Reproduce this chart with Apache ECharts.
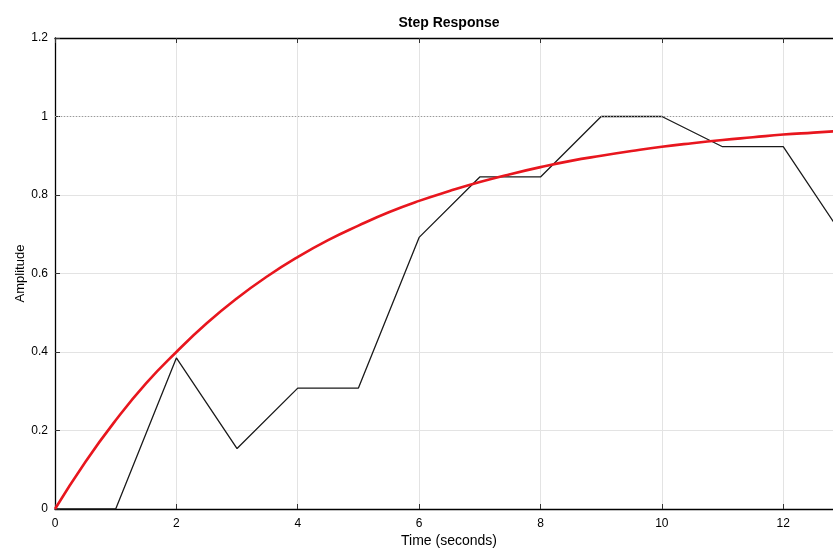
<!DOCTYPE html>
<html>
<head>
<meta charset="utf-8">
<script src="https://cdn.jsdelivr.net/npm/echarts@6/dist/echarts.min.js"></script>
<style>
  html, body { margin: 0; padding: 0; background: #fff; }
  #chart { width: 833px; height: 551px; }
</style>
</head>
<body>
<div id="chart"></div>
<script>
var stepTimes = [0, 1, 2, 3, 4, 5, 6, 7, 8, 9, 10, 11, 12, 13];
var stepValues = [0, 0, 0.385, 0.154, 0.308, 0.308, 0.692, 0.846, 0.846, 1.0, 1.0, 0.923, 0.923, 0.692];

var fitTimes = [0, 0.5, 1, 1.5, 2, 2.5, 3, 3.5, 4, 4.5, 5, 5.5, 6, 6.5, 7, 7.5, 8, 8.5, 9, 9.5, 10, 10.5, 11, 11.5, 12, 12.5, 13];
var fitValues = [0, 0.12, 0.226, 0.32, 0.40, 0.473, 0.537, 0.593, 0.642, 0.685, 0.722, 0.756, 0.785, 0.81, 0.833, 0.853, 0.871, 0.887, 0.90, 0.912, 0.923, 0.932, 0.94, 0.947, 0.954, 0.959, 0.964];

var xTicks = [0, 2, 4, 6, 8, 10, 12];
var yTicks = [0, 0.2, 0.4, 0.6, 0.8, 1, 1.2];

// the picture is cropped a little before the end of the time axis
var xVisibleMax = 12.82;

var font = 'Liberation Sans, Arial, Helvetica, sans-serif';

function pairs(xs, ys) {
  return xs.map(function (x, i) { return [x, ys[i]]; });
}

function boxLine() {
  return { show: true, lineStyle: { color: '#000', width: 1.3 } };
}
function boxTick() {
  return { show: true, inside: true, length: 5, lineStyle: { color: '#333', width: 1 } };
}
function gridLine() {
  return { show: true, lineStyle: { color: '#e3e3e3', width: 1 } };
}

var myChart = echarts.init(document.getElementById('chart'));

myChart.setOption({
  animation: false,
  backgroundColor: '#fff',
  title: {
    text: 'Step Response',
    left: 444,
    textAlign: 'center',
    top: 11,
    textStyle: { fontFamily: font, fontSize: 14, fontWeight: 'bold', color: '#000' }
  },
  grid: { left: 55, top: 38, bottom: 42, right: 0 },
  graphic: [
    {
      type: 'text',
      x: 449, y: 541,
      style: {
        text: 'Time (seconds)', fontFamily: font, fontSize: 14, fill: '#000',
        textAlign: 'center', textVerticalAlign: 'middle'
      }
    }
  ],
  xAxis: [
    {
      type: 'value',
      min: 0, max: xVisibleMax, interval: 2,
      axisLine: boxLine(),
      axisTick: boxTick(),
      axisLabel: {
        showMaxLabel: false, color: '#000', fontFamily: font, fontSize: 12, margin: 9,
        formatter: function (v) { return xTicks.indexOf(v) >= 0 ? String(v) : ''; }
      },
      splitLine: gridLine()
    },
    {
      type: 'value', position: 'top',
      min: 0, max: xVisibleMax, interval: 2,
      axisLine: boxLine(),
      axisTick: boxTick(),
      axisLabel: { show: false },
      splitLine: { show: false }
    }
  ],
  yAxis: [
    {
      type: 'value',
      min: 0, max: 1.2, interval: 0.2,
      name: 'Amplitude',
      nameLocation: 'middle',
      nameGap: 28,
      nameMoveOverlap: false,
      nameTextStyle: { fontFamily: font, fontSize: 13, color: '#000' },
      axisLine: boxLine(),
      axisTick: boxTick(),
      axisLabel: {
        color: '#000', fontFamily: font, fontSize: 12, margin: 7,
        formatter: function (v) {
          var t = yTicks.filter(function (y) { return Math.abs(y - v) < 1e-6; });
          return t.length ? String(t[0]) : '';
        }
      },
      splitLine: gridLine()
    }
  ],
  series: [
    {
      name: 'sampled',
      type: 'line',
      data: pairs(stepTimes, stepValues),
      showSymbol: false,
      clip: true,
      lineStyle: { color: '#1a1a1a', width: 1.3 },
      z: 3,
      markLine: {
        silent: true,
        symbol: 'none',
        label: { show: false },
        lineStyle: { color: '#9a9a9a', type: [1, 2], width: 1 },
        data: [{ yAxis: 1 }]
      }
    },
    {
      name: 'fit',
      type: 'line',
      smooth: true,
      clip: true,
      data: pairs(fitTimes, fitValues),
      showSymbol: false,
      lineStyle: { color: '#e8161e', width: 2.6 },
      z: 4
    }
  ]
});

window.addEventListener('resize', function () { myChart.resize(); });
</script>
</body>
</html>
